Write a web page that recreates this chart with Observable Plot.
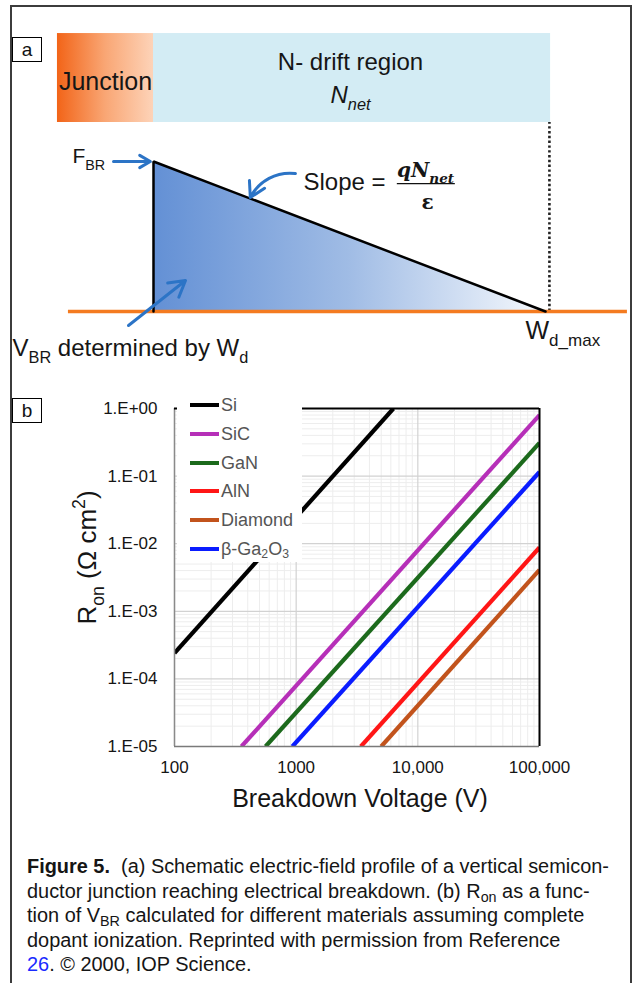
<!DOCTYPE html>
<html><head><meta charset="utf-8">
<script src="https://cdn.jsdelivr.net/npm/d3@7"></script>
<script src="https://cdn.jsdelivr.net/npm/@observablehq/plot@0.6"></script>
<style>
body{margin:0;background:#fff;font-family:"Liberation Sans",Arial,sans-serif;}
#wrap{position:relative;width:635px;height:983px;overflow:hidden;background:#fff;}
#frame{position:absolute;left:10px;top:5px;width:622px;height:1100px;border:2px solid #3c3c3c;box-sizing:border-box;}
.plabel{position:absolute;left:12px;width:30px;height:25px;border:1px solid #000;background:#fff;font-size:19px;line-height:23px;text-align:center;box-sizing:border-box;color:#111;}
#pa{position:absolute;left:0;top:0;}
#pb{position:absolute;left:0;top:385px;}
#legend{position:absolute;left:177px;top:394px;width:125px;height:168px;background:#fff;}
.li{position:absolute;left:0;width:125px;height:22px;}
.li .sw{position:absolute;left:13px;top:9px;width:29px;height:4px;}
.li .tx{position:absolute;left:44px;top:0;font-size:18px;line-height:22px;color:#555;white-space:nowrap;}
.li sub{font-size:0.68em;vertical-align:-0.25em;line-height:0;}
#caption{position:absolute;left:27px;top:854px;color:#151515;font-size:17px;line-height:24.6px;}
#caption div{white-space:nowrap;}
#caption sub{font-size:0.72em;vertical-align:-0.3em;line-height:0;}
#caption a{color:#1a2bff;text-decoration:none;}
</style>
</head><body>
<div id="wrap">
  <div id="frame"></div>
  <div id="pa"></div>
  <div id="pb"></div>
  <div class="plabel" style="top:37px">a</div>
  <div class="plabel" style="top:398px">b</div>
  <div id="legend"></div>
  <div id="caption"></div>
</div>
<script>
// ---------- Panel (a): schematic data (depth in units of W_d_max, field in units of F_BR) ----------
const layerNames = ["Junction", "N- drift region"];
const layerDepthStart = [-0.245, 0];
const layerDepthEnd = [0, 1.013];
const layerFieldTop = 1.853;
const layerFieldBottom = 1.26;
const profileDepth = [0, 0, 1];
const profileField = [0, 1, 0];
const wdMaxDepth = 1.01;
const substrateDepth = [-0.217, 1.209];

// ---------- Panel (b): data ----------
const materials = ["Si", "SiC", "GaN", "AlN", "Diamond", "β-Ga2O3"];
const materialLabels = ["Si", "SiC", "GaN", "AlN", "Diamond", "β-Ga<sub>2</sub>O<sub>3</sub>"];
const materialColors = ["#000000", "#b62fb8", "#1c6a1c", "#ff1616", "#c2531c", "#0a1cff"];
const vStart = [100, 355, 560, 3400, 5000, 930];          // V
const ronStart = [2.4e-4, 1e-5, 1e-5, 1e-5, 1e-5, 1e-5];   // Ω cm²
const vEnd = [6300, 100000, 100000, 100000, 100000, 100000];
const ronEnd = [1.0, 0.80, 0.31, 0.0088, 0.0041, 0.115];

const xTicks = [100, 1000, 10000, 100000];
const xTickLabels = ["100", "1000", "10,000", "100,000"];
const yTicks = [1, 1e-1, 1e-2, 1e-3, 1e-4, 1e-5];
const yTickLabels = ["1.E+00", "1.E-01", "1.E-02", "1.E-03", "1.E-04", "1.E-05"];
const xDecades = [100, 1000, 10000];
const yDecades = [1e-5, 1e-4, 1e-3, 1e-2, 1e-1];
const minorSteps = [2, 3, 4, 5, 6, 7, 8, 9];

const captionLines = [
  "<b>Figure 5.</b>&nbsp; (a) Schematic electric-field profile of a vertical semicon-",
  "ductor junction reaching electrical breakdown. (b) R<sub>on</sub> as a func-",
  "tion of V<sub>BR</sub> calculated for different materials assuming complete",
  "dopant ionization. Reprinted with permission from Reference",
  "<a>26</a>. © 2000, IOP Science."
];

const FONT = "Liberation Sans, Arial, Helvetica, sans-serif";

function richify(svg) {
  svg.querySelectorAll("text").forEach(el => {
    const s = el.textContent;
    if (!/[_^]\{/.test(s)) return;
    const fs = parseFloat(getComputedStyle(el).fontSize);
    const parts = s.split(/([_^]\{[^}]*\})/).filter(p => p);
    el.textContent = "";
    let cur = 0;
    for (const p of parts) {
      const m = p.match(/^([_^])\{([^}]*)\}$/);
      const ts = document.createElementNS("http://www.w3.org/2000/svg", "tspan");
      let target = 0, txt = p;
      if (m) {
        target = m[1] === "_" ? 0.3 * fs : -0.42 * fs;
        txt = m[2];
        ts.setAttribute("font-size", (0.68 * fs).toFixed(2));
      }
      ts.setAttribute("dy", (target - cur).toFixed(2));
      cur = target;
      ts.textContent = txt;
      el.appendChild(ts);
    }
  });
}

// ---------- Panel (a) ----------
const layers = layerNames.map((n, i) => ({name: n, d1: layerDepthStart[i], d2: layerDepthEnd[i], f1: layerFieldBottom, f2: layerFieldTop}));
const profile = profileDepth.map((d, i) => ({d, F: profileField[i]}));
const wedge = profile.slice(1);
const BLUE = "#2c74c6";

const pa = Plot.plot({
  width: 635, height: 385, margin: 0,
  x: {domain: [-0.3903, 1.2296], axis: null},
  y: {domain: [-0.49333, 2.0733], axis: null},
  style: {fontFamily: FONT, background: "transparent", color: "#161616"},
  marks: [
    Plot.rect(layers.slice(0, 1), {x1: "d1", x2: "d2", y1: "f1", y2: "f2", fill: "url(#gJunction)"}),
    Plot.rect(layers.slice(1), {x1: "d1", x2: "d2", y1: "f1", y2: "f2", fill: "#d3ecf4"}),
    Plot.areaY(wedge, {x: "d", y: "F", fill: "url(#gField)"}),
    Plot.ruleX([wdMaxDepth], {y1: 0, y2: layerFieldBottom, stroke: "#222", strokeWidth: 2.6, strokeDasharray: "2.4,2.4"}),
    Plot.ruleY([0], {x1: substrateDepth[0], x2: substrateDepth[1], stroke: "#f47b20", strokeWidth: 3.5}),
    Plot.line(profile, {x: "d", y: "F", stroke: "#000", strokeWidth: 2.5, strokeLinejoin: "miter"}),
    Plot.text(["Junction"], {x: -0.1224, y: 1.527, fontSize: 25, textAnchor: "middle"}),
    Plot.text(["N- drift region"], {x: 0.5026, y: 1.66, fontSize: 24}),
    Plot.text(["N_{net}"], {x: 0.5026, y: 1.44, fontSize: 24, fontStyle: "italic"}),
    Plot.text(["F_{BR}"], {x: -0.2066, y: 1.033, fontSize: 21, textAnchor: "start"}),
    Plot.arrow([{x1: -0.102, y1: 1.0, x2: -0.008, y2: 1.0}], {x1: "x1", y1: "y1", x2: "x2", y2: "y2", stroke: BLUE, strokeWidth: 3, headLength: 9}),
    Plot.text(["Slope ="], {x: 0.3827, y: 0.86, fontSize: 24, textAnchor: "start"}),
    Plot.text(["qN_{net}"], {x: 0.694, y: 0.94, fontSize: 20, fontStyle: "italic", fontWeight: "bold", fontFamily: "DejaVu Serif, serif"}),
    Plot.ruleY([0.853], {x1: 0.622, x2: 0.770, stroke: "#111", strokeWidth: 1.3}),
    Plot.text(["ε"], {x: 0.699, y: 0.727, fontSize: 20, fontFamily: "DejaVu Serif, serif", fontWeight: "bold"}),
    Plot.arrow([{x1: 0.362, y1: 0.92, x2: 0.247, y2: 0.76}], {x1: "x1", y1: "y1", x2: "x2", y2: "y2", stroke: BLUE, strokeWidth: 3, headLength: 9, bend: -35}),
    Plot.arrow([{x1: -0.0638, y1: -0.0933, x2: 0.0816, y2: 0.2067}], {x1: "x1", y1: "y1", x2: "x2", y2: "y2", stroke: BLUE, strokeWidth: 3, headLength: 9}),
    Plot.text(["V_{BR} determined by W_{d}"], {x: -0.3597, y: -0.247, fontSize: 24, textAnchor: "start"}),
    Plot.text(["W_{d_max}"], {x: 0.949, y: -0.127, fontSize: 25, textAnchor: "start"})
  ]
});
const defs = d3.select(pa).insert("defs", ":first-child");
const gJ = defs.append("linearGradient").attr("id", "gJunction").attr("x1", 0).attr("x2", 1).attr("y1", 0).attr("y2", 0);
[[0, "#f26418"], [0.5, "#f9a674"], [1, "#fdd3b8"]].forEach(([o, c]) => gJ.append("stop").attr("offset", o).attr("stop-color", c));
const gF = defs.append("linearGradient").attr("id", "gField").attr("x1", 0).attr("x2", 1).attr("y1", 0).attr("y2", 0);
[[0, "#6390d5"], [0.5, "#a0bce5"], [1, "#f6f9fd"]].forEach(([o, c]) => gF.append("stop").attr("offset", o).attr("stop-color", c));
document.getElementById("pa").appendChild(pa);
richify(pa);

// ---------- Panel (b) ----------
const rows = materials.flatMap((m, i) => [
  {m, v: vStart[i], r: ronStart[i]},
  {m, v: vEnd[i], r: ronEnd[i]}
]);
const xMinor = xDecades.flatMap(d => minorSteps.map(k => d * k));
const yMinor = yDecades.flatMap(d => minorSteps.map(k => d * k));

const pb = Plot.plot({
  width: 635, height: 435,
  marginLeft: 174, marginRight: 96, marginTop: 23, marginBottom: 74,
  style: {fontFamily: FONT, fontSize: "17px", color: "#151515", background: "transparent"},
  x: {type: "log", domain: [100, 100000], ticks: xTicks, tickFormat: d => xTickLabels[xTicks.indexOf(d)], tickSize: 0, tickPadding: 14, label: null},
  y: {type: "log", domain: [1e-5, 1], ticks: yTicks, tickFormat: d => yTickLabels[yTicks.indexOf(d)], tickSize: 0, tickPadding: 17, label: null},
  color: {domain: materials, range: materialColors},
  marks: [
    Plot.ruleX(xMinor, {stroke: "#ededed", strokeWidth: 1}),
    Plot.ruleY(yMinor, {stroke: "#ededed", strokeWidth: 1}),
    Plot.ruleX(xTicks, {stroke: "#d2d2d2", strokeWidth: 1.2}),
    Plot.ruleY(yTicks, {stroke: "#d2d2d2", strokeWidth: 1.2}),
    Plot.line(rows, {x: "v", y: "r", z: "m", stroke: "m", strokeWidth: 4.2, strokeLinecap: "butt", clip: true}),
    Plot.ruleX([100], {stroke: "#8a8a8a", strokeWidth: 1.5}),
    Plot.ruleY([1e-5], {stroke: "#7a7a7a", strokeWidth: 1.5}),
    Plot.ruleX([100000], {stroke: "#000", strokeWidth: 2}),
    Plot.ruleY([1], {stroke: "#000", strokeWidth: 1.8}),
    Plot.text(["Breakdown Voltage (V)"], {frameAnchor: "bottom", lineAnchor: "middle", textAnchor: "middle", dy: 52, dx: 3, fontSize: 25}),
    Plot.text(["R_{on} (Ω cm^{2})"], {frameAnchor: "left", textAnchor: "middle", lineAnchor: "middle", dx: -87, dy: -20, rotate: -90, fontSize: 26})
  ]
});
document.getElementById("pb").appendChild(pb);
richify(pb);

// legend (inside the plot's top-left corner, white box)
const leg = d3.select("#legend");
materials.forEach((m, i) => {
  const it = leg.append("div").attr("class", "li").style("top", (i * 28.8) + "px");
  it.append("div").attr("class", "sw").style("background", materialColors[i]);
  it.append("div").attr("class", "tx").html(materialLabels[i]);
});

// caption
const cap = d3.select("#caption");
captionLines.forEach(l => cap.append("div").html(l));
const first = cap.select("div").node();
const w = first.getBoundingClientRect().width;
const fs = 17 * 582 / w;
cap.style("font-size", fs.toFixed(2) + "px");
</script>
</body></html>
